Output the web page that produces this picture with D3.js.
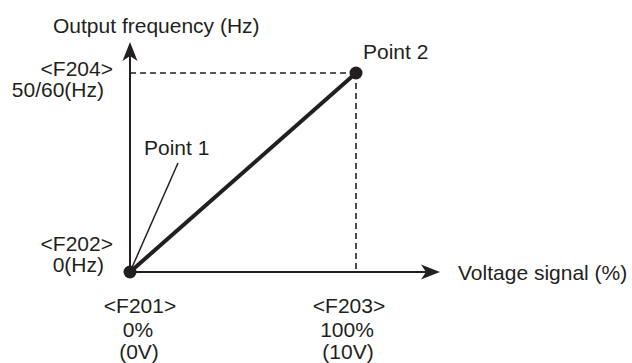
<!DOCTYPE html>
<html><head><meta charset="utf-8">
<script src="https://cdn.jsdelivr.net/npm/d3@7"></script>
<style>body{margin:0;background:#fff}svg{display:block}text{font-family:"Liberation Sans",Arial,sans-serif;font-size:21px;fill:#231f20}</style>
</head><body>
<svg id="c" width="632" height="363"></svg>
<script>
const pointLabels = ["Point 1", "Point 2"];
const xValues = [0, 100];          // voltage signal (%)
const yValues = [0, 100];          // output frequency (% of 50/60 Hz)
const xTickTags = ["<F201>", "<F203>"];
const xTickVals = ["0%", "100%"];
const xTickVolts = ["(0V)", "(10V)"];
const yTickTags = ["<F202>", "<F204>"];
const yTickVals = ["0(Hz)", "50/60(Hz)"];
const xTitle = "Voltage signal (%)";
const yTitle = "Output frequency (Hz)";

const ink = "#231f20";
const svg = d3.select("#c");
const x = d3.scaleLinear().domain([0, 100]).range([130, 356]);
const y = d3.scaleLinear().domain([0, 100]).range([272, 73]);
const xEnd = x.invert(440), yEnd = y.invert(42);

// axes
svg.append("line").attr("x1", x(0)).attr("y1", y(0)).attr("x2", x(xEnd) - 14).attr("y2", y(0))
  .attr("stroke", ink).attr("stroke-width", 2);
svg.append("line").attr("x1", x(0)).attr("y1", y(0)).attr("x2", x(0)).attr("y2", y(yEnd) + 14)
  .attr("stroke", ink).attr("stroke-width", 2);
// arrow heads
const ax = x(xEnd), ay = y(0);
svg.append("path").attr("d", `M${ax},${ay} L${ax-19},${ay-7.5} L${ax-14},${ay} L${ax-19},${ay+7.5} Z`).attr("fill", ink);
const bx = x(0), by = y(yEnd);
svg.append("path").attr("d", `M${bx},${by} L${bx-7.5},${by+19} L${bx},${by+14} L${bx+7.5},${by+19} Z`).attr("fill", ink);

// dashed guides
svg.append("line").attr("x1", x(0)).attr("y1", y(yValues[1])).attr("x2", x(xValues[1])).attr("y2", y(yValues[1]))
  .attr("stroke", ink).attr("stroke-width", 1.6).attr("stroke-dasharray", "6,4");
svg.append("line").attr("x1", x(xValues[1])).attr("y1", y(yValues[1])).attr("x2", x(xValues[1])).attr("y2", y(0))
  .attr("stroke", ink).attr("stroke-width", 1.6).attr("stroke-dasharray", "6,4");

// main line
const pts = xValues.map((v, i) => [v, yValues[i]]);
svg.append("path").datum(pts)
  .attr("d", d3.line().x(d => x(d[0])).y(d => y(d[1])))
  .attr("stroke", ink).attr("stroke-width", 4).attr("fill", "none");

// leader for Point 1
svg.append("line").attr("x1", x(xValues[0])).attr("y1", y(yValues[0])).attr("x2", 178).attr("y2", 163)
  .attr("stroke", ink).attr("stroke-width", 1.5);

// points
svg.selectAll("circle.pt").data(pts).join("circle").attr("class", "pt")
  .attr("cx", d => x(d[0])).attr("cy", d => y(d[1])).attr("r", 6.5).attr("fill", ink);

// labels
svg.append("text").attr("x", 144).attr("y", 155).text(pointLabels[0]);
svg.append("text").attr("x", x(xValues[1]) + 7).attr("y", 59).text(pointLabels[1]);

svg.append("text").attr("x", 53).attr("y", 33).text(yTitle);
svg.append("text").attr("x", 458).attr("y", 280).text(xTitle);

// y tick labels: two lines, above the level for 0, below for top
yValues.forEach((v, i) => {
  const base = i === 0 ? y(v) - 21 : y(v) + 3;
  svg.append("text").attr("x", 113).attr("y", base).attr("text-anchor", "end").text(yTickTags[i]);
  svg.append("text").attr("x", 104).attr("y", base + 21).attr("text-anchor", "end").text(yTickVals[i]);
});
// x tick labels
xValues.forEach((v, i) => {
  const cx = x(v) + (i === 0 ? 10 : -7);
  svg.append("text").attr("x", cx).attr("y", 313).attr("text-anchor", "middle").text(xTickTags[i]);
  svg.append("text").attr("x", cx - 2).attr("y", 337).attr("text-anchor", "middle").text(xTickVals[i]);
  svg.append("text").attr("x", cx - 1).attr("y", 359).attr("text-anchor", "middle").text(xTickVolts[i]);
});
</script>
</body></html>
